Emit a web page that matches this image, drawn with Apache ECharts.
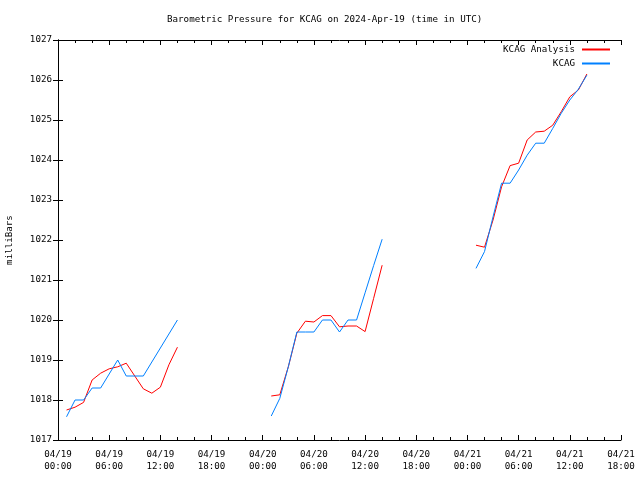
<!DOCTYPE html>
<html>
<head>
<meta charset="utf-8">
<script src="https://cdn.jsdelivr.net/npm/echarts@6/dist/echarts.min.js"></script>
<style>html,body{margin:0;padding:0;background:#fff;}#c{width:640px;height:480px;}</style>
</head>
<body>
<div id="c"></div>
<script>
// hours since 2024-04-19 00:00 UTC
const hours = [1,2,3,4,5,6,7,8,9,10,11,12,13,14,
               25,26,27,28,29,30,31,32,33,34,35,36,37,38,
               49,50,51,52,53,54,55,56,57,58,59,60,61,62];
const analysisValues = [1017.75,1017.82,1017.94,1018.50,1018.67,1018.78,1018.83,1018.92,1018.60,1018.28,1018.17,1018.32,1018.88,1019.32,
                        1018.10,1018.13,1018.83,1019.67,1019.97,1019.95,1020.11,1020.11,1019.83,1019.85,1019.85,1019.71,1020.54,1021.37,
                        1021.87,1021.82,1022.50,1023.33,1023.86,1023.92,1024.50,1024.70,1024.72,1024.87,1025.21,1025.58,1025.75,1026.15];
const kcagValues = [1017.58,1018.00,1018.00,1018.30,1018.30,1018.65,1019.00,1018.60,1018.60,1018.60,1018.95,1019.30,1019.65,1020.00,
                    1017.60,1018.04,1018.83,1019.70,1019.70,1019.70,1020.00,1020.00,1019.70,1020.00,1020.00,1020.68,1021.36,1022.02,
                    1021.29,1021.71,1022.58,1023.42,1023.42,1023.75,1024.12,1024.42,1024.42,1024.79,1025.17,1025.50,1025.77,1026.12];
const seriesNames = ['KCAG Analysis', 'KCAG'];
const titleText = 'Barometric Pressure for KCAG on 2024-Apr-19 (time in UTC)';
const yLabel = 'milliBars';

function build(vals) {
  const out = [];
  for (let i = 0; i < hours.length; i++) {
    if (i > 0 && hours[i] - hours[i-1] > 1) out.push([hours[i-1] + 1, '-']);
    out.push([hours[i], vals[i]]);
  }
  return out;
}
const FONT = 'DejaVu Sans Mono';
const FS = 9.2;
function xfmt(v) {
  const day = 19 + Math.floor(v / 24);
  const hh = v % 24;
  return '04/' + day + '\n' + (hh < 10 ? '0' : '') + hh + ':00';
}
const tickCommon = { show: true, inside: true, length: 5, lineStyle: { color: '#000', width: 1 } };
const minorCommon = { show: true, splitNumber: 3, length: 3, lineStyle: { color: '#000', width: 1 } };
const chart = echarts.init(document.getElementById('c'), null, { renderer: 'canvas' });
chart.setOption({
  animation: false,
  backgroundColor: '#fff',
  title: { text: titleText, left: 167, top: 15, padding: 0,
           textStyle: { fontFamily: FONT, fontSize: FS, fontWeight: 'normal', color: '#000' } },
  legend: { data: seriesNames, right: 30, top: 44, orient: 'vertical', align: 'right', padding: 0,
            itemGap: 3, itemWidth: 28, itemHeight: 2, icon: 'rect',
            textStyle: { fontFamily: FONT, fontSize: FS, color: '#000', lineHeight: 11, padding: [0, 2, 0, 0] } },
  grid: { left: 58, right: 19, top: 40, bottom: 40, show: false },
  graphic: [{ type: 'text', x: 10, y: 240, rotation: Math.PI / 2,
              style: { text: yLabel, font: FS + 'px "' + FONT + '"', fill: '#000', align: 'center', verticalAlign: 'middle' } }],
  xAxis: [
    { type: 'value', min: 0, max: 66, interval: 6, position: 'bottom',
      axisLine: { show: true, lineStyle: { color: '#000', width: 1 } },
      axisTick: tickCommon, minorTick: minorCommon, splitLine: { show: false },
      axisLabel: { formatter: xfmt, margin: 9, lineHeight: 12, fontFamily: FONT, fontSize: FS, color: '#000' } },
    { type: 'value', min: 0, max: 66, interval: 6, position: 'top',
      axisLine: { show: true, lineStyle: { color: '#000', width: 1 } },
      axisTick: tickCommon, minorTick: minorCommon, splitLine: { show: false },
      axisLabel: { show: false } }
  ],
  yAxis: [
    { type: 'value', min: 1017, max: 1027, interval: 1, position: 'left',
      axisLine: { show: true, lineStyle: { color: '#000', width: 1 } },
      axisTick: tickCommon, splitLine: { show: false },
      axisLabel: { margin: 6, formatter: function (v) { return String(v); }, fontFamily: FONT, fontSize: FS, color: '#000' } },
    { type: 'value', min: 1017, max: 1027, interval: 1, position: 'right',
      axisLine: { show: true, lineStyle: { color: '#000', width: 1 } },
      axisTick: tickCommon, splitLine: { show: false },
      axisLabel: { show: false } }
  ],
  series: [
    { name: seriesNames[0], type: 'line', data: build(analysisValues), showSymbol: false, symbol: 'none',
      connectNulls: false, itemStyle: { color: '#ff0000' }, lineStyle: { color: '#ff0000', width: 1 } },
    { name: seriesNames[1], type: 'line', data: build(kcagValues), showSymbol: false, symbol: 'none',
      connectNulls: false, itemStyle: { color: '#0080ff' }, lineStyle: { color: '#0080ff', width: 1 } }
  ]
});
</script>
</body>
</html>
